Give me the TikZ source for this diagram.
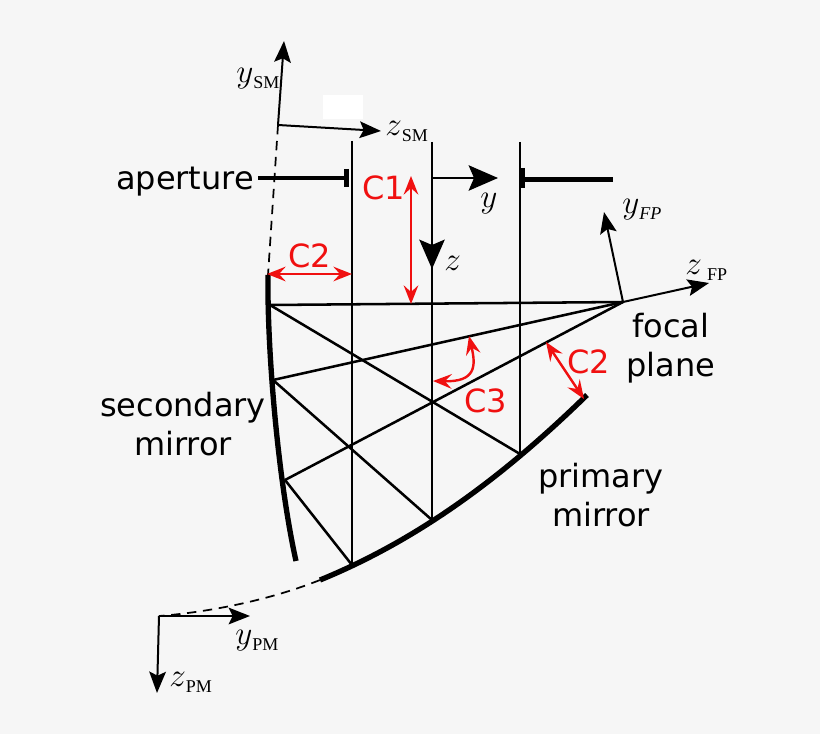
\documentclass[tikz,border=0pt]{standalone}
\usepackage{fontspec}
\setmainfont{DejaVu Sans}
\newfontfamily\lblserif{Liberation Serif}
\usetikzlibrary{arrows.meta}
\definecolor{bgc}{HTML}{F6F6F6}
\definecolor{redc}{HTML}{F01010}
\tikzset{
  px/.style={x=0.75pt,y=-0.75pt},
  ray/.style={line width=1.9pt,black},
  axis/.style={line width=1.5pt,black,-{Stealth[length=16pt,width=12.5pt,inset=3pt]}},
  bigaxis/.style={line width=1.7pt,black,-{Stealth[length=22pt,width=19pt,inset=4pt]}},
  dimarrow/.style={line width=1.8pt,redc,{Stealth[length=14pt,width=11pt,inset=5pt]}-{Stealth[length=14pt,width=11pt,inset=5pt]}},
  mirrorline/.style={line width=4pt,black},
  stopline/.style={line width=3.6pt,black},
  guide/.style={line width=1.3pt,black,dash pattern=on 7pt off 5pt},
  txt/.style={font=\fontsize{24}{24}\selectfont,black,inner sep=0pt},
  red lbl/.style={font=\fontsize{24}{24}\selectfont,redc,inner sep=0pt},
  sym/.style={font=\fontsize{24}{24}\selectfont,black,inner sep=0pt,anchor=base west},
}
\newcommand{\subup}[1]{\raisebox{-4.5pt}{\lblserif\fontsize{13.5}{13.5}\selectfont #1}}
\newcommand{\subit}[1]{\raisebox{-4.5pt}{\lblserif\fontsize{13.5}{13.5}\selectfont\itshape #1}}
\begin{document}
\begin{tikzpicture}[px]
\useasboundingbox (0,0) rectangle (820,734);
\fill[bgc] (0,0) rectangle (820,734);
\fill[white] (323,95) rectangle (363,119);
% coordinates
\coordinate (sm0) at (278,125);
\coordinate (smy) at (284,41);
\coordinate (smz) at (381,131);
\coordinate (smtop) at (268,275);
\coordinate (sma) at (270,305);
\coordinate (smb) at (273,380);
\coordinate (smc) at (285,480);
\coordinate (smbot) at (296,561);
\coordinate (fp) at (623,302);
\coordinate (fpz) at (709,283);
\coordinate (fpy) at (604,212);
\coordinate (pmA) at (352,565);
\coordinate (pmB) at (432,520);
\coordinate (pmC) at (520,454);
\coordinate (pmend) at (587,395);
\coordinate (pmstart) at (320,580);
\coordinate (pm0) at (159,616);
\coordinate (pmy) at (250,616);
\coordinate (pmz) at (157,693);
\coordinate (ctr) at (432,178);
% rays
\draw[ray] (352,141) -- (pmA);
\draw[ray] (432,142) -- (pmB);
\draw[ray] (520,142) -- (pmC);
\draw[ray] (sma) -- (fp);
\draw[ray] (smb) -- (fp);
\draw[ray] (smc) -- (fp);
\draw[ray] (sma) -- (pmC);
\draw[ray] (smb) -- (pmB);
\draw[ray] (smc) -- (pmA);
% mirrors
\draw[mirrorline] (smtop) .. controls (267,350) and (278,480) .. (smbot);
\draw[mirrorline] (pmstart) .. controls (425,537) and (510,470) .. (pmend);
% guides
\draw[guide] (sm0) -- (smtop);
\draw[guide] (pmstart) .. controls (270,600) and (210,612) .. (pm0);
% stops
\draw[stopline] (258,178) -- (346,178);
\draw[line width=3.6pt] (346.5,169) -- (346.5,187);
\draw[stopline] (523,179.5) -- (613,179.5);
\draw[line width=3.6pt] (523,168) -- (523,188);
% axes
\draw[axis] (sm0) -- (smy);
\draw[axis] (sm0) -- (smz);
\draw[axis] (fp) -- (fpz);
\draw[axis] (fp) -- (fpy);
\draw[axis] (pm0) -- (pmy);
\draw[axis] (pm0) -- (pmz);
\draw[bigaxis] (ctr) -- (498,178);
\draw[bigaxis] (ctr) -- (432,269);
% red dims
\draw[dimarrow] (411,176) -- (411,304);
\draw[dimarrow] (267,274) -- (352,274);
\draw[dimarrow] (546,342) -- (584,399);
\draw[dimarrow] (469,336) .. controls (476,366) and (476,382) .. (433,381);
% text
\node[txt] (ap) at (185,182) {aperture};
\node[txt,align=center] (sec) at (183,424) {secondary\\[5.5pt]mirror};
\node[txt,align=center] (pri) at (601,495) {primary\\[5.5pt]mirror};
\node[txt,align=center] (foc) at (671,348) {focal\\[5.5pt]plane};
\node[red lbl] (c1) at (384,188) {C1};
\node[red lbl] (c2a) at (310,256) {C2};
\node[red lbl] (c2b) at (589,362) {C2};
\node[red lbl] (c3) at (486,401) {C3};
\node[sym] (lysm) at (236,83) {$y$\subup{SM}};
\node[sym] (lzsm) at (385,136) {$z$\subup{SM}};
\node[sym] (ly) at (480,208) {$y$};
\node[sym] (lz) at (444,270) {$z$};
\node[sym] (lyfp) at (622,214) {$y$\subit{FP}};
\node[sym] (lzfp) at (685,274) {$z$\,\subup{FP}};
\node[sym] (lypm) at (235,644) {$y$\subup{PM}};
\node[sym] (lzpm) at (169,686) {$z$\subup{PM}};
\end{tikzpicture}
\end{document}
